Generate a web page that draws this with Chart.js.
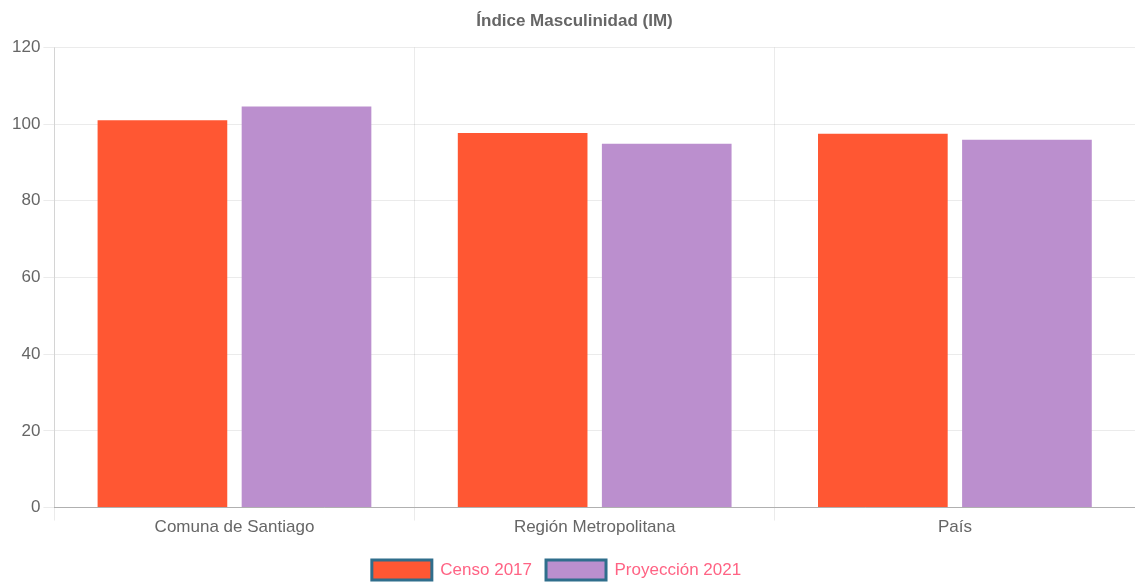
<!DOCTYPE html>
<html>
<head>
<meta charset="utf-8">
<script src="https://cdn.jsdelivr.net/npm/chart.js@4/dist/chart.umd.min.js"></script>
<style>
  html, body { margin: 0; padding: 0; background: #fff; }
  #wrap { width: 1135px; height: 582px; }
</style>
</head>
<body>
<div id="wrap"><canvas id="c" width="1135" height="582"></canvas></div>
<script>
const categories = ['Comuna de Santiago', 'Región Metropolitana', 'País'];
const censo2017 = [101.0, 97.7, 97.5];
const proyeccion2021 = [104.6, 94.9, 95.9];
const yTicks = [0, 20, 40, 60, 80, 100, 120];

const FONT = '"Liberation Sans", Arial, Helvetica, sans-serif';

// Nudges the legend row slightly left of the canvas centre.
const legendShift = {
  id: 'legendShift',
  afterLayout(chart) {
    const lg = chart.legend;
    if (lg) { lg.left -= 18; lg.right -= 18; }
  }
};

new Chart(document.getElementById('c'), {
  type: 'bar',
  data: {
    labels: categories,
    datasets: [
      { label: 'Censo 2017', data: censo2017, backgroundColor: '#FF5733', borderWidth: 0 },
      { label: 'Proyección 2021', data: proyeccion2021, backgroundColor: '#BB8FCE', borderWidth: 0 }
    ]
  },
  plugins: [legendShift],
  options: {
    responsive: false,
    animation: false,
    layout: { padding: { left: 9, right: -5, top: 0, bottom: -8 } },
    plugins: {
      title: {
        display: true,
        text: 'Índice Masculinidad (IM)',
        color: '#666',
        font: { family: FONT, size: 17, weight: 'bold' },
        padding: { top: 11, bottom: 16 }
      },
      legend: {
        position: 'bottom',
        labels: {
          color: '#ff6384',
          font: { family: FONT, size: 17 },
          boxWidth: 60,
          boxHeight: 20,
          padding: 14,
          generateLabels(chart) {
            const items = Chart.defaults.plugins.legend.labels.generateLabels(chart);
            items.forEach(it => { it.strokeStyle = '#2f6e8c'; it.lineWidth = 3; });
            return items;
          }
        }
      },
      tooltip: { enabled: false }
    },
    scales: {
      x: {
        afterFit(scale) { scale.height += 11; },
        grid: { color: 'rgba(0,0,0,0.08)', tickLength: 13, offset: true },
        border: { color: 'rgba(0,0,0,0.25)' },
        ticks: { color: '#666', font: { family: FONT, size: 17 }, padding: -3 }
      },
      y: {
        min: 0,
        max: 120,
        afterBuildTicks(axis) { axis.ticks = yTicks.map(v => ({ value: v })); },
        grid: { color: 'rgba(0,0,0,0.08)', tickLength: 11 },
        border: { color: 'rgba(0,0,0,0.1)' },
        ticks: { color: '#666', font: { family: FONT, size: 17 }, padding: 3 }
      }
    }
  }
});
</script>
</body>
</html>
